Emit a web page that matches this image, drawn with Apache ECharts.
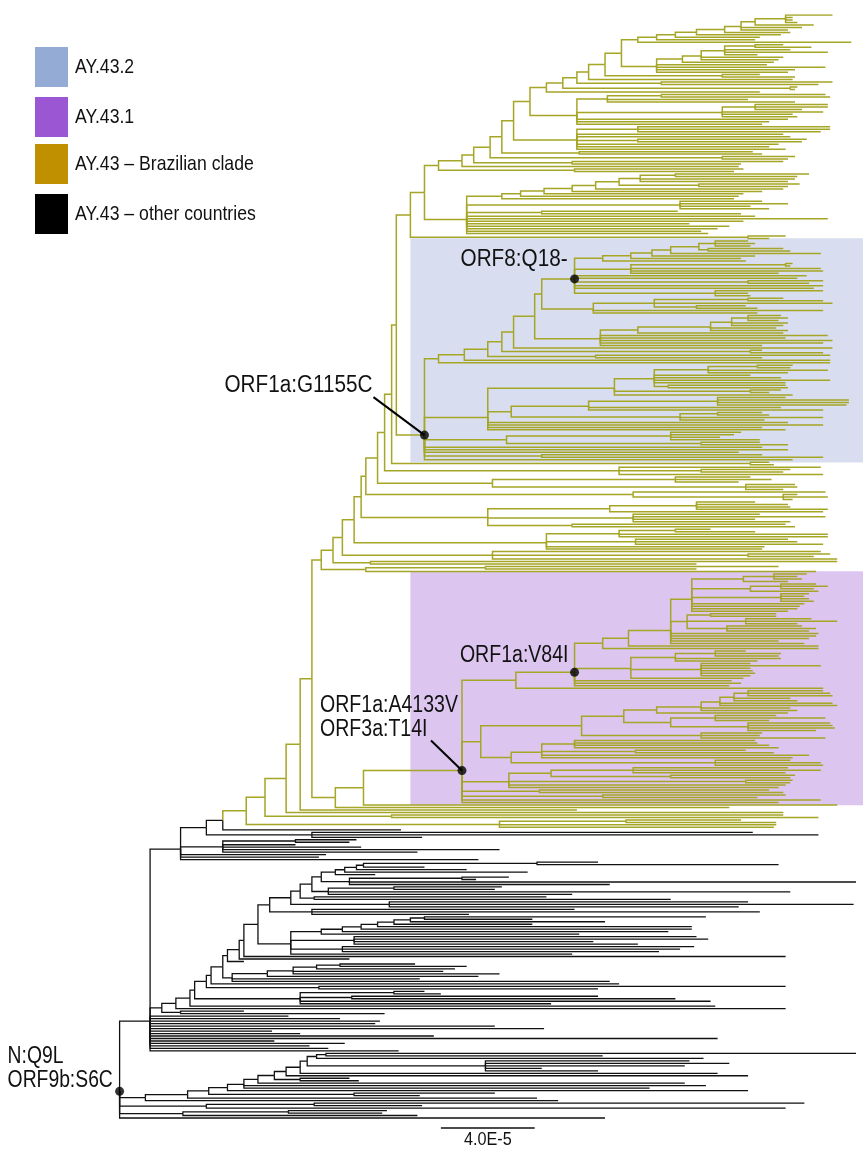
<!DOCTYPE html>
<html>
<head>
<meta charset="utf-8">
<script src="https://cdn.jsdelivr.net/npm/echarts@6/dist/echarts.min.js"></script>
<style>
  html, body { margin: 0; padding: 0; background: #fff; }
  #chart { width: 863px; height: 1151px; }
</style>
</head>
<body>
<div id="chart"></div>
<script>
// tree, newick-like: (children)divergence, leaves are bare numbers
// divergence in units of 1E-6 subst/site, {name} pulls in another part, #tag marks a node

// AY.43 Brazilian clade, top part
var topCrown = "(((((((304,287,287,289)284,296)271,291,285)265,286)258,282)246,273)237,271)229";
var topSub = "(((((283,295)271,286,302,272)258,283,281)248,279)240,276,301,288,285)229";
var topSide1 = "(((301,303)231,268,288)208,((302,302,291)271,300,287,289)257,285,277,274)195";
var topSide2 = "((303,303,299)221,283,286,(293,291)221,281,277,284)195";
var topLadder = "((((((((294,289)237,288,285)222,(290,285)247)213,283)203,274)193,266)181,264)171,262)163";
var topLow = "({topLadder},(274,285,269,277)239,(238,265)180,271,302,266,243,260,255,248,251)148";
var cladeTop = "(((((((((((((((({topCrown},312)221,{topSub})214,(273,288)257)207,287)200,(304,298)231)195,(289,288)286)189,273)182,{topSide1})175,{topSide2})168,(270,274)196)163,(288,285)257)158,(283,265)193)151,264)146,(266,262)194)136,{topLow})130,(284,277)268)124";

// AY.43.2
var blueA8 = "((((((268,271,269)254,(283,286)251)247,299)235,271)227,265)218,267)206";
var blueB8 = "((287,286)284,299,300,281)218";
var blueOrf8 = "({blueA8},{blueB8},293,289,(300,294)268,300,296,(300,268,269)254)194#ORF8";
var blueD = "(((283,300)268,304,(267,272)246)228,300,272)202";
var blueE = "(((((282,285,281)268,285,283)261,280,285)252,283)221,302,284,304,300,274)205";
var blueB1 = "((((((({blueOrf8},{blueD})180,{blueE})177,304)168,(274,300)269)163,(303,274)203)157,303)147,303)136";
var blueF = "((((287,286)272,302,285)251,269,282,303,284,(284,285)234)228,(282,277)269,287)211";
var blueG = "(((284,311,311,310)255,282,300)200,((274,277)255,300,275)239)167";
var blueB2 = "({blueF},{blueG},285,300,274,284)157";
var blueB3 = "((265,262,256,273)235,(273,285)248)165";
var cladeBlue = "({blueB1},{blueB2},{blueB3},274,285,264,(274,300)180,287)130#G1155C";

// side clades between AY.43.2 and AY.43.1
var midS2 = "((281,246)156,297)105";
var midS3 = "(306,246)107";
var midS4 = "(299,(303,296)268,306)159";
var midS5 = "(((252,271)237,302,302)213,(285,289,300)220,275,274)182";
var midS6 = "(((271,285,286,302)246,300)209,(273,301,271,286)219,(284,288)193)157";
var midS7 = "(301,(289,302,287)283)219";
var midS8 = "((269,278,264)237,(288,289,283)267)159";
var midS9 = "(299,(286,283)248,300)213";
var midS10 = "(277,279)269";

// AY.43.1
var purpTop = "(((293,289,291)279,285)266,((297,302,296)282,298)269,(294,292,294,296)282,292,290,289,285)244";
var purpMid = "((280,280)252,(295,306,289)267,(291,297,294)259)242";
var purpLow = "(((267,282,281)254,282,272)237,(269,299,269,270,271,269)248,266)218";
var purpV84I = "(((({purpTop},{purpMid},298,297,294,281,292)235,298)217,298)206,{purpLow},261,265,260)194#V84I";
var purpQ1 = "(((((300,303,304)268,286,289)262,304,306)256,286,289)248,285)229";
var purpQ2 = "((280,301,277)254,(303,304,305,297)268)235";
var purpQ4 = "((271,272,277,281)194,(267,279)220,294,287)180";
var purpLower = "((({purpQ1},{purpQ2})215,(274,273,301)248)197,({purpQ4},(286,299,300)254)167)154";
var purpQ6 = "(((285,299,284)219,(288,286)235)184,(287,286)267,284,281)166";
var cladePurple = "(({purpV84I},300)169,{purpLower},{purpQ6},(277,283)179,(284,272)206,299,281)146#A4133V";

// backbone of the Brazilian clade
var cladeBrazil = "((((((((((((((({cladeTop},{cladeBlue})118,{midS10})116,{midS9})113,{midS8})110,{midS7})105,{midS6})103,{midS5})100,{midS4})95,{midS3})91,{midS2})86,(({cladePurple},306)104,260)92)82,195)77,283)71,(283,298)116)62,((265,280)216,280,279)162)54#BR";

// AY.43 other countries
var blackA1 = "((({cladeBrazil},120)44,(270,298,129)82)37,((101,98)75,75,103,162,127)44,88,85,153)26";
var blackA2e = "((((((((250,176)130,207)124,176)117,244)110,244)103,234)95,196)86,(246,251,202,221)100,(245,239,230)95,193)73";
var blackA2d = "(((((126,148)94,143)84,138,162)74,153)63,128,209)48";
var blackA2c = "((130,137)117,(204,237)99,252,184)77";
var blackLadderUp = "(((((((((((204,281)178,130)104,148)101,174)96,109)92,((166,152)146,314,209)98)86,((163,160)117,286,193)89)82,(182,235)83)77,(268,313,264)115)73,(194,273,149)82)64,{blackA2e})59";
var blackA2 = "(((((((((({blackLadderUp},284)53,98)51,53)46,{blackA2d})44,213)39,(284,204)85)37,{blackA2c})32,254)30,284)24,(53,113)26)18";
var blackA = "({blackA1},{blackA2},72,94,111,109,160,181,65,77,134,255,66,96,81,89,119)13";
var blackB = "((((((((((((314,206)88,249)84,(243,260,241,180,204)156)80,255)77,268)71,(98,102)77)66,241)59,250,226)53,268)46,(160,128)100)38,178)29,187)11";
var treeRoot = "({blackA},{blackB},((292,129)83,284)37,((114,112)72,127)27,207)0#ROOT";

var scaleLength = 40; // 4.0E-5
var scaleText = '4.0E-5';

var legendNames = ['AY.43.2', 'AY.43.1', 'AY.43 \u2013 Brazilian clade', 'AY.43 \u2013 other countries'];
var legendColors = ['#94acd5', '#9b56d3', '#c09000', '#000000'];

var cladeParts = {
  topCrown: topCrown, topSub: topSub, topSide1: topSide1, topSide2: topSide2, topLadder: topLadder,
  topLow: topLow, cladeTop: cladeTop, blueA8: blueA8, blueB8: blueB8, blueOrf8: blueOrf8, blueD: blueD,
  blueE: blueE, blueB1: blueB1, blueF: blueF, blueG: blueG, blueB2: blueB2, blueB3: blueB3,
  cladeBlue: cladeBlue, midS2: midS2, midS3: midS3, midS4: midS4, midS5: midS5, midS6: midS6,
  midS7: midS7, midS8: midS8, midS9: midS9, midS10: midS10, purpTop: purpTop, purpMid: purpMid,
  purpLow: purpLow, purpV84I: purpV84I, purpQ1: purpQ1, purpQ2: purpQ2, purpQ4: purpQ4,
  purpLower: purpLower, purpQ6: purpQ6, cladePurple: cladePurple, cladeBrazil: cladeBrazil,
  blackA1: blackA1, blackA2e: blackA2e, blackA2d: blackA2d, blackA2c: blackA2c,
  blackLadderUp: blackLadderUp, blackA2: blackA2, blackA: blackA, blackB: blackB
};

function expand(s) {
  return s.replace(/\{(\w+)\}/g, function (m, k) { return expand(cladeParts[k]); });
}

var src = expand(treeRoot).replace(/\s+/g, '');
var pos = 0;
function readNode() {
  var n = { children: [] };
  if (src[pos] === '(') {
    pos++;
    n.children.push(readNode());
    while (src[pos] === ',') { pos++; n.children.push(readNode()); }
    pos++; // ')'
  }
  var num = '';
  while (pos < src.length && /[0-9.\-]/.test(src[pos])) num += src[pos++];
  n.depth = +num;
  if (src[pos] === '#') {
    pos++;
    var t = '';
    while (pos < src.length && /\w/.test(src[pos])) t += src[pos++];
    n.tag = t;
  }
  return n;
}
var root = readNode();

// leaves in order top to bottom, inner nodes at the mean of their children
var leafCount = 0;
var tagged = {};
function place(n) {
  if (n.tag) tagged[n.tag] = n;
  if (!n.children.length) { n.y = leafCount++; return; }
  var s = 0;
  n.children.forEach(function (c) { place(c); s += c.y; });
  n.y = s / n.children.length;
}
place(root);

var yellowEdges = [], blackEdges = [];
function collect(n, inBrazil) {
  n.children.forEach(function (c) {
    var yel = inBrazil || c.tag === 'BR';
    (yel ? yellowEdges : blackEdges).push({ coords: [[n.depth, n.y], [n.depth, c.y], [c.depth, c.y]] });
    collect(c, yel);
  });
}
collect(root, false);

function leafRange(n) {
  if (!n.children.length) return [n.y, n.y];
  return [leafRange(n.children[0])[0], leafRange(n.children[n.children.length - 1])[1]];
}

var xMin = -51, xMax = 317;
var boxStart = 124;
var boxColors = ['#d8deef', '#dcc6f0'];
var boxes = [tagged.G1155C, tagged.A4133V].map(function (n) {
  var r = leafRange(n);
  return [boxStart, r[0] - 1.1, xMax, r[1] + 1.1];
});

var dots = ['ORF8', 'G1155C', 'V84I', 'A4133V', 'ROOT'].map(function (k) {
  return [tagged[k].depth, tagged[k].y];
});

var spacing = (1118 - 15) / (leafCount - 1);
var yMax = leafCount - 1 + 6;
var scaleY = leafCount - 1 + 4;
var scaleStart = 137;

var chart = echarts.init(document.getElementById('chart'));
chart.setOption({
  animation: false,
  backgroundColor: '#fff',
  grid: { left: 0, right: 0, top: 15, height: spacing * yMax },
  xAxis: { type: 'value', min: xMin, max: xMax, show: false },
  yAxis: { type: 'value', min: 0, max: yMax, inverse: true, show: false },
  series: [
    {
      type: 'custom',
      z: 1,
      silent: true,
      data: boxes,
      renderItem: function (params, api) {
        var p0 = api.coord([api.value(0), api.value(1)]);
        var p1 = api.coord([api.value(2), api.value(3)]);
        return {
          type: 'rect',
          shape: { x: p0[0], y: p0[1], width: p1[0] - p0[0], height: p1[1] - p0[1] },
          style: { fill: boxColors[params.dataIndex] }
        };
      }
    },
    {
      type: 'lines', coordinateSystem: 'cartesian2d', polyline: true, silent: true, z: 2,
      data: blackEdges,
      lineStyle: { color: '#111111', width: 1.3, opacity: 1 }
    },
    {
      type: 'lines', coordinateSystem: 'cartesian2d', polyline: true, silent: true, z: 3,
      data: yellowEdges,
      lineStyle: { color: '#a5a526', width: 1.5, opacity: 1 }
    },
    {
      type: 'lines', coordinateSystem: 'cartesian2d', silent: true, z: 3,
      data: [{ coords: [[scaleStart, scaleY], [scaleStart + scaleLength, scaleY]] }],
      lineStyle: { color: '#111111', width: 1.5, opacity: 1 }
    },
    {
      type: 'scatter', z: 5, silent: true,
      symbolSize: 9,
      itemStyle: { color: '#000' },
      data: dots
    }
  ]
});

// labels next to the marked nodes
var notes = [
  { tag: 'ORF8', text: ['ORF8:Q18-'], dx: -7, dy: -19, align: 'right', sx: 0.9 },
  { tag: 'G1155C', text: ['ORF1a:G1155C'], dx: -52, dy: -49, align: 'right', sx: 0.9, leader: [-51, -38] },
  { tag: 'V84I', text: ['ORF1a:V84I'], dx: -6, dy: -17, align: 'right', sx: 0.85 },
  { tag: 'A4133V', text: ['ORF1a:A4133V', 'ORF3a:T14I'], dx: -142, dy: -65, align: 'left', sx: 0.85, leader: [-31, -30] },
  { tag: 'ROOT', text: ['N:Q9L', 'ORF9b:S6C'], dx: -112, dy: -35, align: 'left', sx: 0.84 }
];

var font = '"Liberation Sans", Arial, sans-serif';
var graphics = [];
notes.forEach(function (nt) {
  var p = chart.convertToPixel({ gridIndex: 0 }, [tagged[nt.tag].depth, tagged[nt.tag].y]);
  nt.text.forEach(function (t, i) {
    graphics.push({
      type: 'text', x: p[0] + nt.dx, y: p[1] + nt.dy + i * 24, scaleX: nt.sx, z: 10,
      style: { text: t, fill: '#111', font: '23px ' + font, align: nt.align, verticalAlign: 'middle' }
    });
  });
  if (nt.leader) {
    graphics.push({
      type: 'line', z: 10,
      shape: { x1: p[0] + nt.leader[0], y1: p[1] + nt.leader[1], x2: p[0], y2: p[1] },
      style: { stroke: '#000', lineWidth: 2 }
    });
  }
});

var sb = chart.convertToPixel({ gridIndex: 0 }, [scaleStart + scaleLength / 2, scaleY]);
graphics.push({
  type: 'text', x: sb[0], y: sb[1] + 12, scaleX: 0.9, z: 10,
  style: { text: scaleText, fill: '#111', font: '18px ' + font, align: 'center', verticalAlign: 'middle' }
});

legendNames.forEach(function (name, i) {
  var top = [47, 97, 144, 194][i];
  graphics.push({
    type: 'rect', z: 10,
    shape: { x: 35, y: top, width: 33, height: 40 },
    style: { fill: legendColors[i] }
  });
  graphics.push({
    type: 'text', x: 75, y: top + 20, scaleX: 0.84, z: 10,
    style: { text: name, fill: '#111', font: '21px ' + font, align: 'left', verticalAlign: 'middle' }
  });
});

chart.setOption({ graphic: graphics });
</script>
</body>
</html>
